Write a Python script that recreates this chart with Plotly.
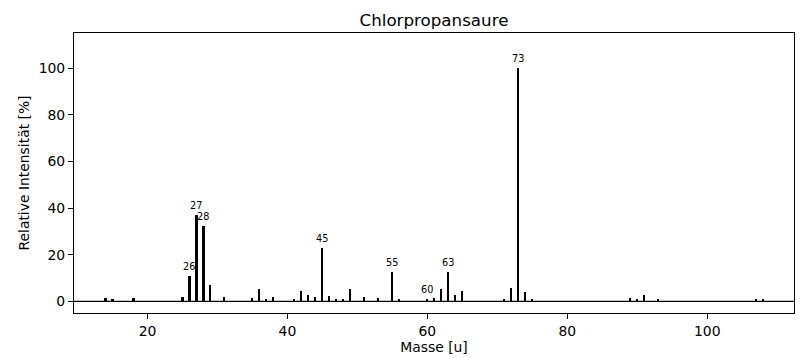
import plotly.graph_objects as go

masses = [14, 15, 18, 25, 26, 27, 28, 29, 31, 35, 36, 37, 38, 41, 42, 43, 44, 45, 46, 47, 48,
          49, 51, 53, 55, 56, 60, 61, 62, 63, 64, 65, 71, 72, 73, 74, 75, 89, 90, 91, 93, 107, 108]
intensities = [1.3, 0.9, 1.3, 1.7, 10.7, 36.9, 32.2, 6.9, 1.7, 1.3, 5.1, 0.9, 1.7, 0.9, 4.3, 2.6, 1.7,
               22.7, 2.1, 0.9, 0.9, 5.1, 1.7, 1.3, 12.4, 0.9, 0.9, 1.4, 5.1, 12.4, 2.6, 4.3, 0.9, 5.6,
               100.0, 3.9, 0.9, 1.3, 0.9, 2.6, 0.9, 0.9, 0.9]
labeled = [26, 27, 28, 45, 55, 60, 63, 73]

title = "Chlorpropansaure"
xlabel = "Masse [u]"
ylabel = "Relative Intensität [%]"

FONT = "DejaVu Sans"

fig = go.Figure()
fig.add_trace(go.Bar(x=masses, y=intensities, width=0.3,
                     marker=dict(color="black", line=dict(width=0)),
                     showlegend=False, hoverinfo="x+y"))

# baseline
fig.add_shape(type="line", xref="paper", x0=0, x1=1, yref="y", y0=0, y1=0,
              line=dict(color="black", width=1.3), layer="above")

for m in labeled:
    v = intensities[masses.index(m)]
    fig.add_annotation(x=m, y=v, text=str(m), showarrow=False, yanchor="middle",
                       yshift=10, font=dict(family=FONT, size=9.7, color="black"))

axis_common = dict(showline=True, linecolor="black", linewidth=1.1, mirror=True,
                   ticks="outside", ticklen=5, tickwidth=1.1, tickcolor="black",
                   showgrid=False, zeroline=False, automargin=False,
                   tickfont=dict(family=FONT, size=13.9, color="black"))

fig.update_layout(
    width=806, height=358,
    margin=dict(l=74, r=12, t=33, b=45, autoexpand=False),
    paper_bgcolor="white", plot_bgcolor="white",
    bargap=0,
    title=dict(text=title, x=0.5, xanchor="center", y=1 - 20 / 358, yanchor="middle",
               xref="paper", automargin=False,
               font=dict(family=FONT, size=16.7, color="black")),
    xaxis=dict(range=[9.5, 112.4], tickvals=[20, 40, 60, 80, 100],
               title=dict(text=xlabel, standoff=4, font=dict(family=FONT, size=13.9, color="black")),
               **axis_common),
    yaxis=dict(range=[-5, 115], tickvals=[0, 20, 40, 60, 80, 100],
               title=dict(text=ylabel, standoff=5, font=dict(family=FONT, size=13.9, color="black")),
               **axis_common),
)

fig.write_html("out.html", config={"displayModeBar": False},
               post_script="document.body.style.margin='0';document.body.style.overflow='hidden';")
